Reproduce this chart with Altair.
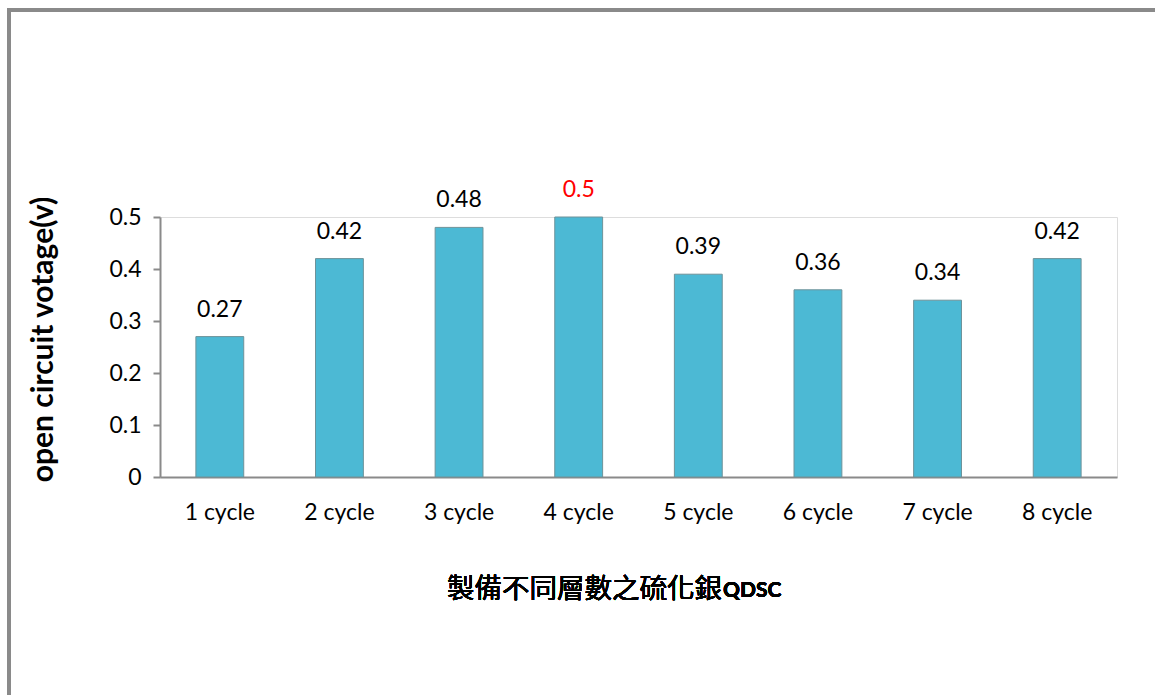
import altair as alt
import pandas as pd

categories = ["1 cycle", "2 cycle", "3 cycle", "4 cycle", "5 cycle", "6 cycle", "7 cycle", "8 cycle"]
values = [0.27, 0.42, 0.48, 0.50, 0.39, 0.36, 0.34, 0.42]
label_colors = ["black", "black", "black", "red", "black", "black", "black", "black"]
y_ticks = [0, 0.1, 0.2, 0.3, 0.4, 0.5]

df = pd.DataFrame({"cat": categories, "val": values, "lc": label_colors})
df["lab"] = [f"{v:g}" for v in values]

W, H = 957, 260
FONT = "Lato"

x_enc = alt.X("cat:N", sort=categories, title=None,
              scale=alt.Scale(paddingInner=0.6, paddingOuter=0.3),
              axis=alt.Axis(labelAngle=0, labelFont=FONT, labelFontSize=23, labelColor="black",
                            labelPadding=24, ticks=False, domainColor="#8a8a8a", domainWidth=2))
y_enc = alt.Y("val:Q", scale=alt.Scale(domain=[0, 0.5], nice=False),
              axis=alt.Axis(values=y_ticks, format="~g", grid=False, labelFont=FONT, labelFontSize=23,
                            labelColor="black", labelPadding=12, tickSize=7, tickColor="#8a8a8a",
                            tickWidth=2, domainColor="#8a8a8a", domainWidth=2,
                            title="open circuit votage(v)", titleFont=FONT, titleFontSize=30,
                            titleFontWeight="bold", titleColor="black", titleAngle=-90,
                            titleX=-117, titleY=122, titleAlign="center", titleBaseline="middle"))

bars = alt.Chart(df).mark_bar(color="#4CB9D4", stroke="#6E9299", strokeWidth=1).encode(x=x_enc, y=y_enc)

labels = alt.Chart(df).mark_text(font=FONT, fontSize=23, baseline="middle", dy=-27).encode(
    x=alt.X("cat:N", sort=categories),
    y=alt.Y("val:Q"),
    text="lab:N",
    color=alt.Color("lc:N", scale=None),
)

frame_top = alt.Chart(df).mark_rule(stroke="#8a8a8a", strokeWidth=3).encode(
    x=alt.value(-153), x2=alt.value(995), y=alt.value(-207))
frame_left = alt.Chart(df).mark_rule(stroke="#8a8a8a", strokeWidth=3).encode(
    x=alt.value(-151), y=alt.value(-208), y2=alt.value(478))

t_cn = alt.Chart(df).mark_text(text="製備不同層數之硫化銀", font="Noto Sans CJK TC", fontSize=27.5,
                               align="right", baseline="middle", color="black").encode(
    x=alt.value(562), y=alt.value(373))
t_en = alt.Chart(df).mark_text(text="QDSC", font=FONT, fontSize=21, fontWeight="bold",
                               align="left", baseline="middle", color="black").encode(
    x=alt.value(563), y=alt.value(374))

chart = alt.layer(frame_top, frame_left, bars, labels, t_cn, t_en).properties(
    width=W, height=H,
    autosize=alt.AutoSizeParams(type="none"),
    padding={"left": 160, "top": 217, "right": 38, "bottom": 218},
).configure_view(stroke=None).configure(background="white")

chart.save("out.html", embed_options={"renderer": "svg", "actions": False})
